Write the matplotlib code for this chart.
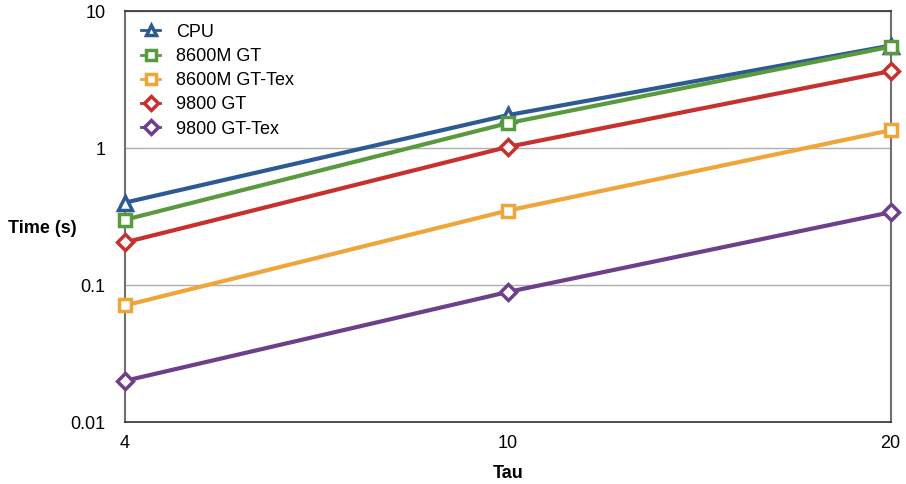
import matplotlib.pyplot as plt
from matplotlib.ticker import FixedLocator, NullLocator

plt.rcParams['font.family'] = ['Liberation Sans', 'DejaVu Sans']

# Data
tau = ['4', '10', '20']
cpu = [0.40, 1.74, 5.6]
gt8600 = [0.30, 1.52, 5.5]
gt8600_tex = [0.071, 0.35, 1.35]
gt9800 = [0.205, 1.02, 3.65]
gt9800_tex = [0.020, 0.089, 0.34]

series = [
    ('CPU', cpu, '#2e5a94', '^'),
    ('8600M GT', gt8600, '#5a9a3e', 's'),
    ('8600M GT-Tex', gt8600_tex, '#f0a53a', 's'),
    ('9800 GT', gt9800, '#c8302d', 'D'),
    ('9800 GT-Tex', gt9800_tex, '#6e3f8a', 'D'),
]

fig = plt.figure(figsize=(9.06, 4.84), dpi=100)
ax = fig.add_axes([0.138, 0.128, 0.845, 0.849])

x = list(range(len(tau)))
for name, vals, color, marker in series:
    ms = 10 if marker == '^' else (9 if marker == 's' else 8)
    ax.plot(x, vals, color=color, lw=3, marker=marker, ms=ms,
            markerfacecolor='white', markeredgecolor=color, markeredgewidth=2.5,
            label=name, zorder=3, clip_on=False)

ax.set_yscale('log')
ax.set_ylim(0.01, 10)
ax.set_xlim(0, 2)
ax.set_xticks(x)
ax.set_xticklabels(tau)
ax.yaxis.set_major_locator(FixedLocator([0.01, 0.1, 1, 10]))
ax.yaxis.set_minor_locator(NullLocator())
ax.set_yticklabels(['0.01', '0.1', '1', '10'])
ax.tick_params(length=0, labelsize=13, pad=9)
ax.tick_params(axis='y', pad=14)

ax.grid(axis='y', color='#b0b0b0', lw=1)
for s in ax.spines.values():
    s.set_color('#707070')
    s.set_linewidth(1.5)
ax.spines['top'].set_linewidth(1.2)
ax.spines['top'].set_color('#303030')
ax.spines['bottom'].set_color('#303030')
ax.spines['bottom'].set_linewidth(1.2)

ax.set_xlabel('Tau', fontsize=13, fontweight='bold', labelpad=10)
ax.set_ylabel('Time (s)', fontsize=13, fontweight='bold', rotation=0, labelpad=0,
              ha='left', va='center')
ax.yaxis.set_label_coords(-0.153, 0.472)

leg = ax.legend(loc='upper left', frameon=False, fontsize=13, handlelength=1.0,
                handletextpad=0.9, labelspacing=0.4, borderaxespad=0.3,
                bbox_to_anchor=(0.005, 1.0))
for h in leg.legend_handles:
    h.set_markersize(7)
    h.set_linewidth(2)

fig.savefig('out.png', dpi=100)
